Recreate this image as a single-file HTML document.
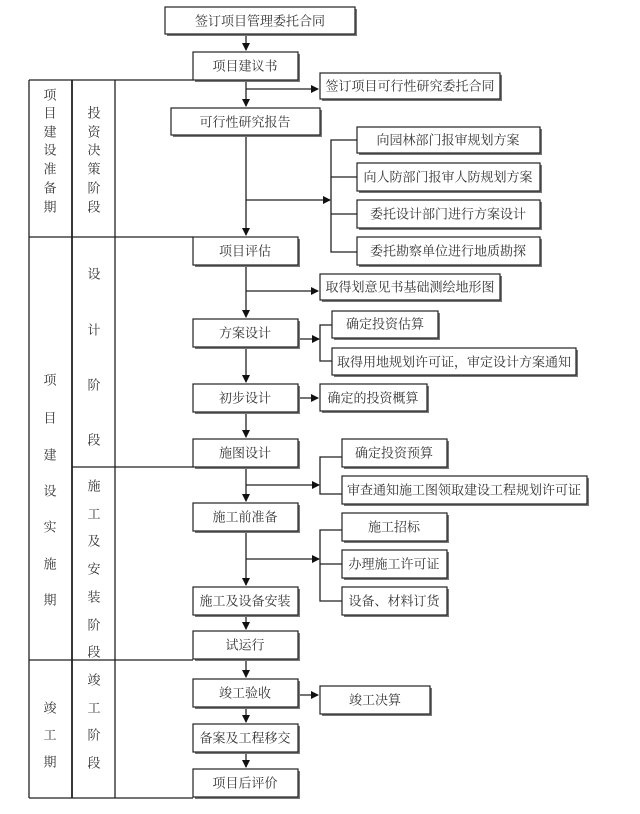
<!DOCTYPE html>
<html><head><meta charset="utf-8"><style>
html,body{margin:0;padding:0;background:#fff;}
svg{display:block}
text{font-family:"Liberation Serif","Noto Serif CJK SC","Noto Sans CJK SC",serif;font-size:13px;fill:#333;text-anchor:middle;dominant-baseline:central}
</style></head><body>
<svg width="640" height="814" viewBox="0 0 640 814" xmlns="http://www.w3.org/2000/svg">
<defs>
<marker id="a" markerWidth="8" markerHeight="8" refX="7" refY="4" orient="auto" markerUnits="userSpaceOnUse">
<path d="M0,0 L8,4 L0,8 z" fill="#111"/></marker>
</defs>
<g stroke="#222" stroke-width="1.3" fill="none">
<line x1="29" y1="80" x2="193" y2="80"/>
<line x1="29" y1="237" x2="193" y2="237"/>
<line x1="72" y1="467" x2="193" y2="467"/>
<line x1="29" y1="660" x2="193" y2="660"/>
<line x1="29" y1="798" x2="193" y2="798"/>
<line x1="29" y1="80" x2="29" y2="798"/>
<line x1="72" y1="80" x2="72" y2="798" stroke-width="1.8"/>
<line x1="115" y1="80" x2="115" y2="798"/>
<line x1="246" y1="34" x2="246" y2="50" marker-end="url(#a)"/>
<line x1="246" y1="80" x2="246" y2="106" marker-end="url(#a)"/>
<line x1="246" y1="89" x2="318" y2="89" marker-end="url(#a)"/>
<line x1="246" y1="135" x2="246" y2="235" marker-end="url(#a)"/>
<line x1="246" y1="200" x2="330" y2="200" marker-end="url(#a)"/>
<polyline points="357,140 331,140 331,252 357,252"/>
<line x1="331" y1="177" x2="357" y2="177"/>
<line x1="331" y1="214" x2="357" y2="214"/>
<line x1="246" y1="265" x2="246" y2="317" marker-end="url(#a)"/>
<line x1="246" y1="291" x2="318" y2="291" marker-end="url(#a)"/>
<line x1="298" y1="339" x2="319" y2="339" marker-end="url(#a)"/>
<polyline points="332,325 320,325 320,361 332,361"/>
<line x1="246" y1="347" x2="246" y2="382" marker-end="url(#a)"/>
<line x1="298" y1="398" x2="318" y2="398" marker-end="url(#a)"/>
<line x1="246" y1="412" x2="246" y2="437" marker-end="url(#a)"/>
<line x1="246" y1="467" x2="246" y2="501" marker-end="url(#a)"/>
<line x1="246" y1="485" x2="319" y2="485" marker-end="url(#a)"/>
<polyline points="342,457 320,457 320,494 342,494"/>
<line x1="246" y1="531" x2="246" y2="585" marker-end="url(#a)"/>
<line x1="246" y1="559" x2="319" y2="559" marker-end="url(#a)"/>
<polyline points="342,530 320,530 320,601 342,601"/>
<line x1="320" y1="564" x2="342" y2="564"/>
<line x1="246" y1="615" x2="246" y2="629" marker-end="url(#a)"/>
<line x1="246" y1="660" x2="246" y2="677" marker-end="url(#a)"/>
<line x1="298" y1="695" x2="318" y2="695" marker-end="url(#a)"/>
<line x1="246" y1="707" x2="246" y2="722" marker-end="url(#a)"/>
<line x1="246" y1="752" x2="246" y2="767" marker-end="url(#a)"/>
</g>
<g>
<g fill="#777">
<rect x="167" y="9" width="190" height="27"/>
<rect x="195" y="54" width="105" height="28"/>
<rect x="322" y="75" width="180" height="26"/>
<rect x="173" y="110" width="149" height="27"/>
<rect x="359" y="129" width="183" height="26"/>
<rect x="359" y="165" width="183" height="28"/>
<rect x="359" y="202" width="183" height="28"/>
<rect x="359" y="239" width="183" height="28"/>
<rect x="195" y="239" width="105" height="28"/>
<rect x="322" y="276" width="180" height="26"/>
<rect x="195" y="321" width="105" height="28"/>
<rect x="334" y="313" width="106" height="27"/>
<rect x="334" y="350" width="244" height="27"/>
<rect x="195" y="386" width="105" height="28"/>
<rect x="322" y="386" width="107" height="27"/>
<rect x="195" y="441" width="105" height="28"/>
<rect x="344" y="441" width="105" height="28"/>
<rect x="344" y="478" width="245" height="28"/>
<rect x="195" y="505" width="105" height="28"/>
<rect x="344" y="515" width="105" height="28"/>
<rect x="344" y="552" width="105" height="28"/>
<rect x="344" y="589" width="105" height="28"/>
<rect x="195" y="589" width="105" height="28"/>
<rect x="195" y="633" width="105" height="28"/>
<rect x="195" y="681" width="105" height="28"/>
<rect x="322" y="688" width="110" height="28"/>
<rect x="195" y="726" width="105" height="28"/>
<rect x="195" y="771" width="105" height="28"/>
</g>
<g fill="#fff" stroke="#222" stroke-width="1.2">
<rect x="165" y="7" width="190" height="27"/>
<rect x="193" y="52" width="105" height="28"/>
<rect x="320" y="73" width="180" height="26"/>
<rect x="171" y="108" width="149" height="27"/>
<rect x="357" y="127" width="183" height="26"/>
<rect x="357" y="163" width="183" height="28"/>
<rect x="357" y="200" width="183" height="28"/>
<rect x="357" y="237" width="183" height="28"/>
<rect x="193" y="237" width="105" height="28"/>
<rect x="320" y="274" width="180" height="26"/>
<rect x="193" y="319" width="105" height="28"/>
<rect x="332" y="311" width="106" height="27"/>
<rect x="332" y="348" width="244" height="27"/>
<rect x="193" y="384" width="105" height="28"/>
<rect x="320" y="384" width="107" height="27"/>
<rect x="193" y="439" width="105" height="28"/>
<rect x="342" y="439" width="105" height="28"/>
<rect x="342" y="476" width="245" height="28"/>
<rect x="193" y="503" width="105" height="28"/>
<rect x="342" y="513" width="105" height="28"/>
<rect x="342" y="550" width="105" height="28"/>
<rect x="342" y="587" width="105" height="28"/>
<rect x="193" y="587" width="105" height="28"/>
<rect x="193" y="631" width="105" height="28"/>
<rect x="193" y="679" width="105" height="28"/>
<rect x="320" y="686" width="110" height="28"/>
<rect x="193" y="724" width="105" height="28"/>
<rect x="193" y="769" width="105" height="28"/>
</g>
</g>
<g>
<text x="260" y="21">签订项目管理委托合同</text>
<text x="245" y="66">项目建议书</text>
<text x="410" y="86">签订项目可行性研究委托合同</text>
<text x="245" y="122">可行性研究报告</text>
<text x="448" y="140">向园林部门报审规划方案</text>
<text x="448" y="177">向人防部门报审人防规划方案</text>
<text x="448" y="214">委托设计部门进行方案设计</text>
<text x="448" y="251">委托勘察单位进行地质勘探</text>
<text x="245" y="251">项目评估</text>
<text x="410" y="287">取得划意见书基础测绘地形图</text>
<text x="245" y="333">方案设计</text>
<text x="385" y="324">确定投资估算</text>
<text x="454" y="362">取得用地规划许可证，审定设计方案通知</text>
<text x="245" y="398">初步设计</text>
<text x="373" y="398">确定的投资概算</text>
<text x="245" y="453">施图设计</text>
<text x="394" y="453">确定投资预算</text>
<text x="464" y="490">审查通知施工图领取建设工程规划许可证</text>
<text x="245" y="517">施工前准备</text>
<text x="394" y="527">施工招标</text>
<text x="394" y="564">办理施工许可证</text>
<text x="394" y="601">设备、材料订货</text>
<text x="245" y="601">施工及设备安装</text>
<text x="245" y="645">试运行</text>
<text x="245" y="693">竣工验收</text>
<text x="375" y="700">竣工决算</text>
<text x="245" y="738">备案及工程移交</text>
<text x="245" y="783">项目后评价</text>
</g>
<g>
<text x="50" y="95">项</text><text x="50" y="113">目</text><text x="50" y="132">建</text><text x="50" y="150">设</text><text x="50" y="169">准</text><text x="50" y="188">备</text><text x="50" y="207">期</text>
<text x="94" y="113">投</text><text x="94" y="132">资</text><text x="94" y="150">决</text><text x="94" y="169">策</text><text x="94" y="188">阶</text><text x="94" y="207">段</text>
<text x="94" y="274">设</text><text x="94" y="330">计</text><text x="94" y="385">阶</text><text x="94" y="440">段</text>
<text x="50" y="380">项</text><text x="50" y="418">目</text><text x="50" y="455">建</text><text x="50" y="491">设</text><text x="50" y="527">实</text><text x="50" y="564">施</text><text x="50" y="600">期</text>
<text x="94" y="486">施</text><text x="94" y="514">工</text><text x="94" y="541">及</text><text x="94" y="569">安</text><text x="94" y="597">装</text><text x="94" y="625">阶</text><text x="94" y="652">段</text>
<text x="50" y="708">竣</text><text x="50" y="735">工</text><text x="50" y="762">期</text>
<text x="94" y="680">竣</text><text x="94" y="708">工</text><text x="94" y="735">阶</text><text x="94" y="763">段</text>
</g>
</svg>
</body></html>
